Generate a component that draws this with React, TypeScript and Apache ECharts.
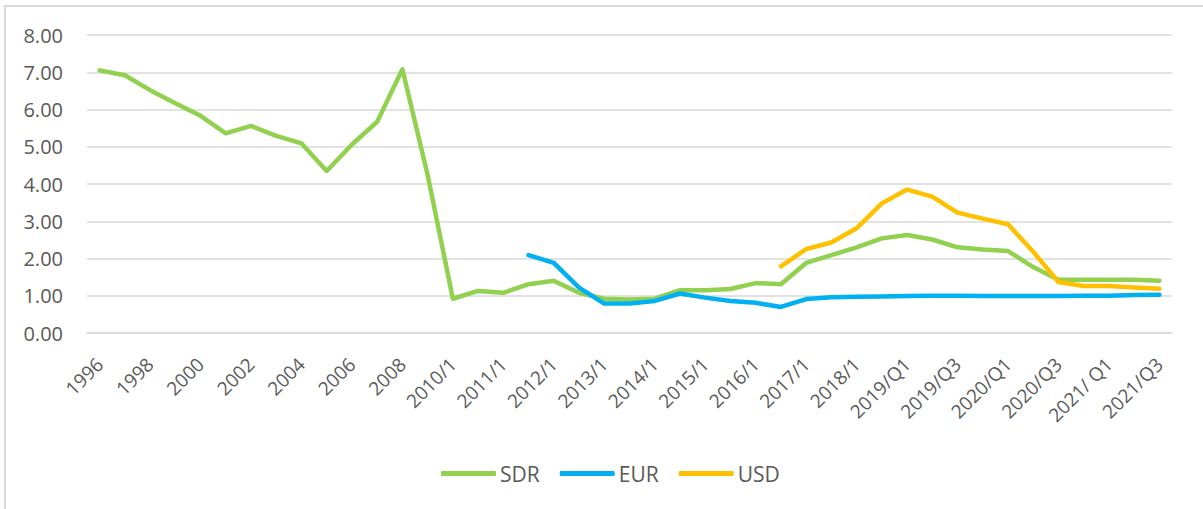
import React, { useEffect, useRef } from "react";
import * as echarts from "echarts";

const categories = [
  "1996", "1997", "1998", "1999", "2000", "2001", "2002", "2003", "2004", "2005", "2006", "2007", "2008", "2009",
  "2010/1", "2010/2", "2011/1", "2011/2", "2012/1", "2012/2", "2013/1", "2013/2", "2014/1", "2014/2",
  "2015/1", "2015/2", "2016/1", "2016/2", "2017/1", "2017/2", "2018/1", "2018/2",
  "2019/Q1", "2019/Q2", "2019/Q3", "2019/Q4", "2020/Q1", "2020/Q2", "2020/Q3", "2020/Q4",
  "2021/ Q1", "2021/Q2", "2021/Q3",
];

const sdr = [
  7.05, 6.92, 6.52, 6.17, 5.83, 5.36, 5.56, 5.29, 5.09, 4.35, 5.06, 5.67, 7.08, 4.24,
  0.92, 1.13, 1.08, 1.31, 1.40, 1.08, 0.92, 0.90, 0.92, 1.15,
  1.15, 1.18, 1.34, 1.31, 1.88, 2.09, 2.30, 2.54,
  2.63, 2.51, 2.30, 2.24, 2.20, 1.77, 1.43, 1.43,
  1.43, 1.43, 1.40,
];

const eur = [
  null, null, null, null, null, null, null, null, null, null, null, null, null, null,
  null, null, null, 2.09, 1.88, 1.22, 0.79, 0.79, 0.86, 1.06,
  0.95, 0.86, 0.81, 0.70, 0.91, 0.96, 0.97, 0.98,
  0.99, 1.00, 1.00, 0.99, 0.99, 0.99, 0.99, 1.00,
  1.00, 1.02, 1.03,
];

const usd = [
  null, null, null, null, null, null, null, null, null, null, null, null, null, null,
  null, null, null, null, null, null, null, null, null, null,
  null, null, null, 1.79, 2.25, 2.43, 2.81, 3.48,
  3.85, 3.66, 3.23, 3.07, 2.92, 2.18, 1.37, 1.26,
  1.26, 1.22, 1.19,
];

const seriesNames = ["SDR", "EUR", "USD"];
const seriesColors = ["#92D050", "#00B0F0", "#FFC000"];

export default function App() {
  const ref = useRef<HTMLDivElement>(null);

  useEffect(() => {
    document.body.style.margin = "0";
    const chart = echarts.init(ref.current!, null, { renderer: "svg" });
    const font = "'Open Sans', 'Noto Sans', sans-serif";
    const mk = (name: string, data: (number | null)[], color: string) => ({
      name,
      type: "line",
      data,
      symbol: "none",
      connectNulls: false,
      lineStyle: { color, width: 4.5, cap: "round", join: "round" },
      itemStyle: { color },
    });
    chart.setOption({
      animation: false,
      backgroundColor: "#ffffff",
      textStyle: { fontFamily: font },
      grid: { left: 87, right: 31, top: 35, bottom: 176, containLabel: false },
      xAxis: {
        type: "category",
        data: categories,
        boundaryGap: true,
        axisLine: { show: true, lineStyle: { color: "#D9D9D9", width: 1.5 } },
        axisTick: { show: false },
        axisLabel: {
          interval: 1,
          rotate: 45,
          margin: 28,
          color: "#595959",
          fontSize: 19,
          fontFamily: font,
        },
      },
      yAxis: {
        type: "value",
        min: 0,
        max: 8,
        interval: 1,
        axisLine: { show: false },
        axisTick: { show: false },
        splitLine: { lineStyle: { color: "#D9D9D9", width: 1.5 } },
        axisLabel: {
          margin: 24,
          color: "#595959",
          fontSize: 20,
          fontFamily: font,
          formatter: (v: number) => v.toFixed(2),
        },
      },
      legend: {
        data: seriesNames,
        bottom: 25,
        left: 441,
        icon: "roundRect",
        itemWidth: 55,
        itemHeight: 5,
        itemGap: 20,
        padding: 0,
        textStyle: { color: "#595959", fontSize: 21, fontFamily: font, padding: [0, 0, 0, -1] },
      },
      graphic: [
        {
          type: "polyline",
          shape: { points: [[5, 509], [5, 6], [1203, 6]] },
          style: { stroke: "#D9D9D9", fill: "none", lineWidth: 2 },
          silent: true,
        },
      ],
      series: [
        mk(seriesNames[0], sdr, seriesColors[0]),
        mk(seriesNames[1], eur, seriesColors[1]),
        mk(seriesNames[2], usd, seriesColors[2]),
      ],
    });
    return () => chart.dispose();
  }, []);

  return (
    <div
      ref={ref}
      style={{ position: "absolute", left: 0, top: 0, width: 1203, height: 509 }}
    />
  );
}
